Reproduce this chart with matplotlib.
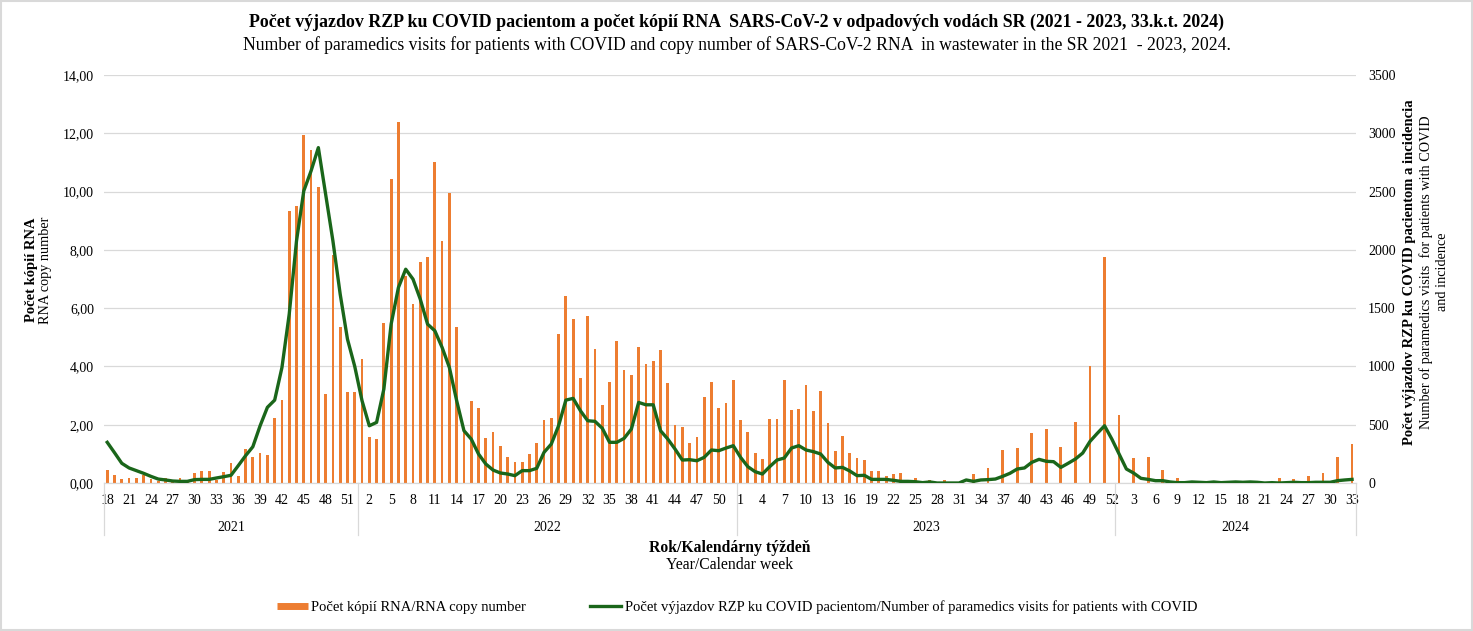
import numpy as np
import matplotlib
matplotlib.use("Agg")
import matplotlib.pyplot as plt
from matplotlib.lines import Line2D
from matplotlib.patches import Rectangle
from matplotlib.transforms import blended_transform_factory

plt.rcParams['font.family'] = ['Liberation Serif', 'DejaVu Serif']

nan = np.nan

# calendar weeks per year
years = [2021, 2022, 2023, 2024]
weeks_2021 = list(range(18, 53))
weeks_2022 = list(range(1, 53))
weeks_2023 = list(range(1, 53))
weeks_2024 = list(range(1, 34))

# RNA copy number (left axis)
rna_2021 = [0.46, 0.27, 0.14, 0.16, 0.16, 0.27, 0.14, 0.08, 0.18, 0.05,
            0.16, 0.05, 0.34, 0.42, 0.42, 0.11, 0.37, 0.69, 0.25, 1.17,
            0.88, 1.03, 0.96, 2.22, 2.86, 9.34, 9.52, 11.95, 11.44, 10.14,
            3.07, 7.83, 5.34, 3.12, 3.12]
rna_2022 = [4.27, 1.59, 1.52, 5.50, 10.43, 12.38, 7.09, 6.13, 7.58, 7.74,
            11.02, 8.30, 9.95, 5.36, 1.75, 2.82, 2.56, 1.54, 1.76, 1.28,
            0.90, 0.71, 0.71, 0.98, 1.38, 2.16, 2.24, 5.12, 6.40, 5.63,
            3.62, 5.74, 4.59, 2.67, 3.47, 4.86, 3.87, 3.71, 4.66, 4.08,
            4.19, 4.56, 3.42, 2.00, 1.92, 1.36, 1.57, 2.96, 3.46, 2.56,
            2.74, 3.52]
rna_2023 = [2.16, 1.76, 1.04, 0.82, 2.18, 2.18, 3.52, 2.50, 2.53, 3.36,
            2.46, 3.14, 2.06, 1.11, 1.60, 1.03, 0.86, 0.80, 0.40, 0.42,
            0.24, 0.32, 0.35, 0.10, 0.17, nan, 0.10, nan, 0.10, nan,
            nan, nan, 0.32, nan, 0.50, nan, 1.14, nan, 1.20, nan,
            1.70, nan, 1.86, nan, 1.25, nan, 2.10, nan, 4.02, nan,
            7.76, nan]
rna_2024 = [2.34, nan, 0.86, nan, 0.90, nan, 0.45, nan, 0.16, nan,
            0.08, nan, 0.03, nan, 0.06, nan, 0.02, nan, 0.02, nan,
            0.02, nan, 0.16, nan, 0.14, nan, 0.24, nan, 0.35, nan,
            0.88, nan, 1.34]

# paramedic visits for COVID patients (right axis)
visits_2021 = [349, 260, 169, 129, 106, 83, 57, 34, 26, 17,
               14, 14, 29, 31, 31, 43, 54, 66, 149, 234,
               311, 491, 649, 711, 991, 1449, 2077, 2506, 2677, 2877,
               2477, 2077, 1620, 1234, 1000]
visits_2022 = [706, 491, 520, 806, 1363, 1677, 1834, 1749, 1577, 1363,
               1306, 1163, 991, 706, 449, 377, 249, 163, 111, 86,
               77, 63, 106, 106, 126, 263, 334, 491, 711, 726,
               620, 534, 529, 470, 349, 349, 383, 463, 691, 671,
               671, 449, 377, 291, 197, 200, 191, 220, 283, 277,
               300, 320]
visits_2023 = [220, 140, 97, 77, 140, 197, 214, 300, 320, 283,
               269, 249, 177, 129, 134, 103, 63, 66, 31, 31,
               31, 23, 14, 14, 11, 3, 9, 0, 0, 0,
               0, 26, 14, 26, 29, 34, 57, 83, 120, 129,
               177, 203, 186, 183, 134, 169, 206, 257, 357, 426,
               491, 377]
visits_2024 = [249, 120, 85, 40, 31, 20, 20, 9, 3, 3,
               9, 6, 3, 9, 3, 6, 9, 6, 9, 6,
               0, 3, 0, 3, 6, 3, 3, 6, 6, 6,
               20, 26, 31]

week_lists = [weeks_2021, weeks_2022, weeks_2023, weeks_2024]
weeks = weeks_2021 + weeks_2022 + weeks_2023 + weeks_2024
rna = np.array(rna_2021 + rna_2022 + rna_2023 + rna_2024, dtype=float)
visits = np.array(visits_2021 + visits_2022 + visits_2023 + visits_2024, dtype=float)
x = np.arange(len(weeks))

ORANGE = '#ED7D31'
GREEN = '#1A661A'
GRID = '#D9D9D9'

fig = plt.figure(figsize=(14.73, 6.31), dpi=100)
ax = fig.add_axes([103.6 / 1473, 1 - 483 / 631, (1355.7 - 103.6) / 1473, 408 / 631])
ax2 = ax.twinx()

ax.bar(x, rna, width=0.38, color=ORANGE, zorder=2)
ax2.plot(x, visits, color=GREEN, lw=2.4, zorder=3)

ax.set_xlim(-0.5, len(weeks) - 0.5)
ax.set_ylim(0, 14)
ax2.set_ylim(0, 3500)
ax.set_yticks(np.arange(0, 15, 2))
ax.set_yticklabels([f"{v:.2f}".replace('.', ',') for v in np.arange(0, 15, 2)])
ax2.set_yticks(np.arange(0, 3501, 500))
ax.grid(axis='y', color=GRID, lw=0.9)
ax.set_axisbelow(True)

ax.set_xticks(x[::3])
ax.set_xticklabels([str(w) for w in weeks[::3]])

for a in (ax, ax2):
    for s in ['top', 'left', 'right']:
        a.spines[s].set_visible(False)
    a.spines['bottom'].set_color(GRID)
    a.tick_params(length=0, labelsize=10)
ax.tick_params(axis='y', pad=7)
ax2.tick_params(axis='y', pad=9)
ax.tick_params(axis='x', pad=8)

# year separators and year labels below the week numbers
trans = blended_transform_factory(ax.transData, ax.transAxes)
bounds = np.cumsum([0] + [len(w) for w in week_lists]) - 0.5
for b in bounds:
    ax.plot([b, b], [0, -0.127], color=GRID, lw=0.9, transform=trans, clip_on=False)
for i, yr in enumerate(years):
    ax.text((bounds[i] + bounds[i + 1]) / 2, -0.11, str(yr), transform=trans,
            ha='center', va='center', fontsize=10)

# titles
fig.text(0.5, 0.965, "Počet výjazdov RZP ku COVID pacientom a počet kópií RNA  SARS-CoV-2 "
         "v odpadových vodách SR (2021 - 2023, 33.k.t. 2024)",
         ha='center', va='center', fontsize=12.9, fontweight='bold')
fig.text(0.5, 0.929, "Number of paramedics visits for patients with COVID and copy number of "
         "SARS-CoV-2 RNA  in wastewater in the SR 2021  - 2023, 2024.",
         ha='center', va='center', fontsize=12.7)

# axis titles
fig.text(32 / 1473, 1 - 270 / 631, "Počet kópií RNA", rotation=90, ha='center', va='center',
         fontsize=10.5, fontweight='bold')
fig.text(45 / 1473, 1 - 270 / 631, "RNA copy number", rotation=90, ha='center', va='center',
         fontsize=10.3)
fig.text(1409 / 1473, 1 - 272 / 631, "Počet výjazdov RZP ku COVID pacientom a incidencia",
         rotation=90, ha='center', va='center', fontsize=10.5, fontweight='bold')
fig.text(1434 / 1473, 1 - 272 / 631,
         "Number of paramedics visits  for patients with COVID\nand incidence",
         rotation=90, ha='center', va='center', fontsize=10.3, multialignment='center',
         linespacing=1.35)
fig.text(729.6 / 1473, 1 - 548 / 631, "Rok/Kalendárny týždeň", ha='center', va='center',
         fontsize=11.3, fontweight='bold')
fig.text(729.6 / 1473, 1 - 565 / 631, "Year/Calendar week", ha='center', va='center',
         fontsize=11.3)

handles = [Line2D([], [], color=ORANGE, lw=5, solid_capstyle='butt'),
           Line2D([], [], color=GREEN, lw=2.4)]
fig.legend(handles, ["Počet kópií RNA/RNA copy number",
                     "Počet výjazdov RZP ku COVID pacientom/Number of paramedics visits for patients with COVID"],
           loc='center', bbox_to_anchor=(737 / 1473, 1 - 607 / 631), ncol=2, frameon=False,
           fontsize=10.5, handlelength=2.1, handletextpad=0.25, columnspacing=4.4)

# light frame around the whole chart
fig.add_artist(Rectangle((0.001, 0.002), 0.998, 0.996, transform=fig.transFigure,
                         fill=False, edgecolor=GRID, lw=1.5))

fig.savefig("out.png", dpi=100)
